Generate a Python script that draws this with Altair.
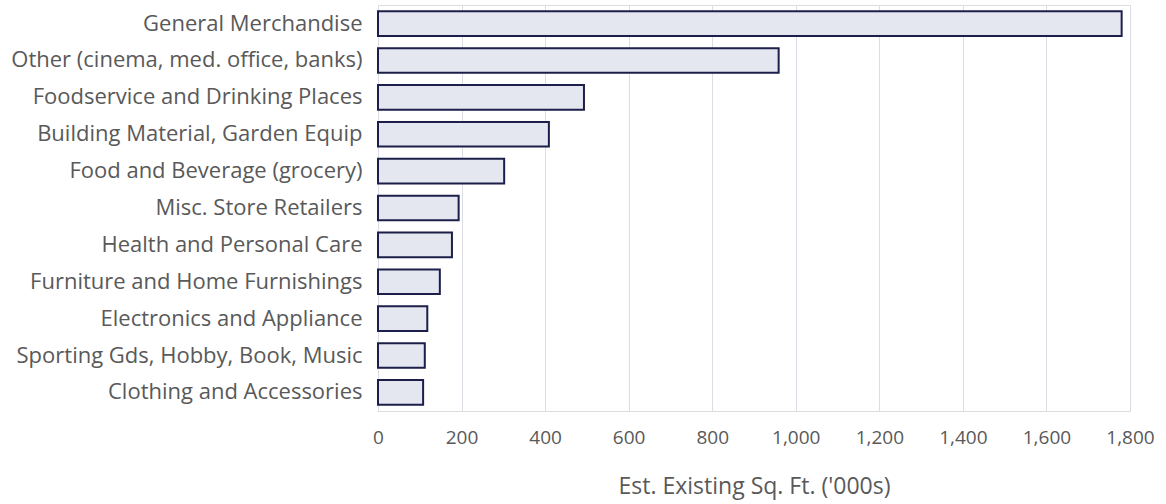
import altair as alt
import pandas as pd

categories = [
    "General Merchandise",
    "Other (cinema, med. office, banks)",
    "Foodservice and Drinking Places",
    "Building Material, Garden Equip",
    "Food and Beverage (grocery)",
    "Misc. Store Retailers",
    "Health and Personal Care",
    "Furniture and Home Furnishings",
    "Electronics and Appliance",
    "Sporting Gds, Hobby, Book, Music",
    "Clothing and Accessories",
]
values = [1780, 959, 493, 409, 302, 193, 177, 148, 118, 112, 108]
x_ticks = [0, 200, 400, 600, 800, 1000, 1200, 1400, 1600, 1800]

df = pd.DataFrame({"category": categories, "value": values})

FONT = "Open Sans"

chart = (
    alt.Chart(df)
    .mark_bar(fill="#e4e6f0", stroke="#1c1f4a", strokeWidth=2)
    .encode(
        y=alt.Y(
            "category:N",
            sort=categories,
            title=None,
            scale=alt.Scale(paddingInner=0.33, paddingOuter=0.17),
            axis=alt.Axis(
                ticks=False,
                domain=False,
                labelFontSize=22,
                labelColor="#595959",
                labelFont=FONT,
                labelPadding=16,
                labelLimit=420,
            ),
        ),
        x=alt.X(
            "value:Q",
            title="Est. Existing Sq. Ft. ('000s)",
            scale=alt.Scale(domain=[0, 1800], nice=False),
            axis=alt.Axis(
                values=x_ticks,
                format=",.0f",
                ticks=False,
                domain=False,
                grid=True,
                gridColor="#dcdce4",
                gridWidth=1,
                labelFlush=False,
                labelFontSize=19,
                labelColor="#595959",
                labelFont=FONT,
                labelPadding=17,
                titleFontSize=23,
                titleFont=FONT,
                titleColor="#595959",
                titleFontWeight="normal",
                titlePadding=28,
            ),
        ),
    )
    .properties(
        width=752,
        height=406,
        autosize=alt.AutoSizeParams(type="none"),
        padding={"left": 378, "top": 5, "right": 36, "bottom": 93},
    )
    .configure_view(stroke=None)
    .configure(background="white")
)

chart.save("out.html", embed_options={"renderer": "svg", "actions": False})
